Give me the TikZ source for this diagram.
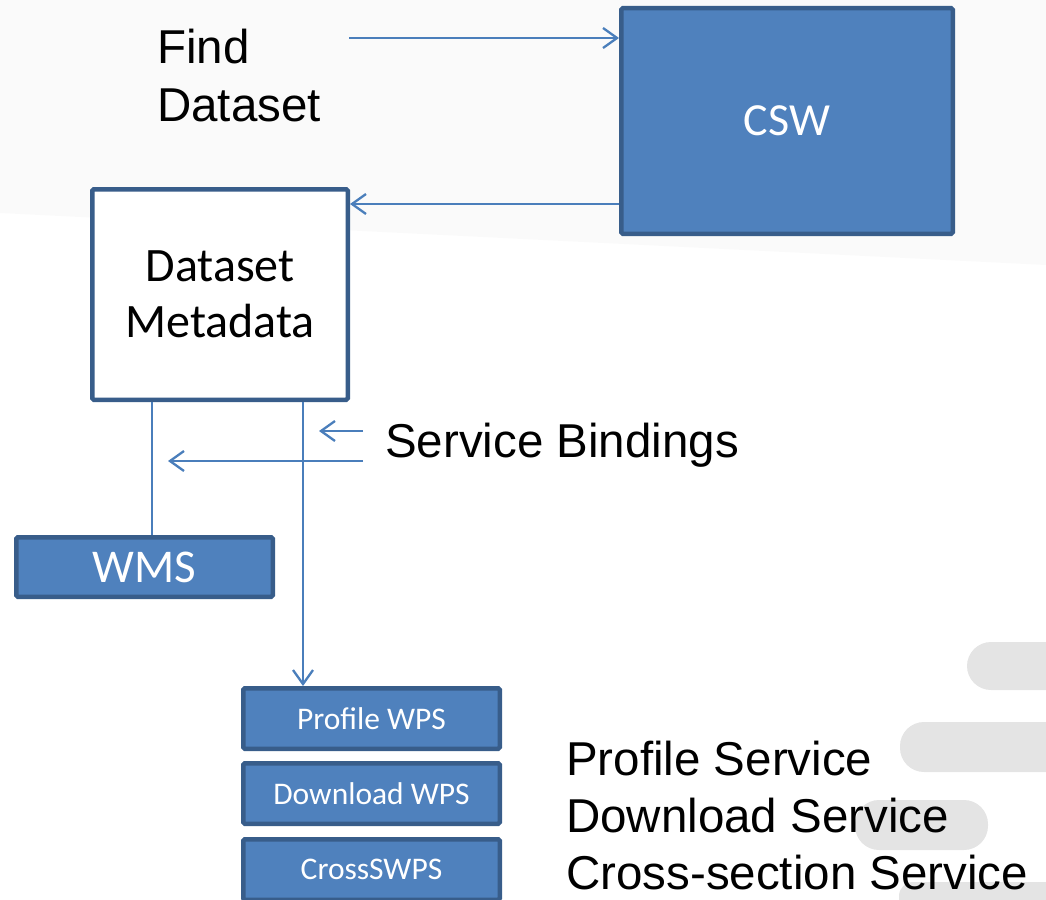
\documentclass[tikz,border=0pt]{standalone}
\usepackage{fontspec}
\usetikzlibrary{arrows.meta}
\newfontfamily\arialf{Liberation Sans}
\newfontfamily\carl{Carlito}
\definecolor{boxc}{HTML}{4F81BD}
\definecolor{bordc}{HTML}{385D8A}
\definecolor{linec}{HTML}{4A7EBB}
\definecolor{pillc}{HTML}{E4E4E4}
\definecolor{bandc}{HTML}{FAFAFA}
\tikzset{
  bluebox/.style={draw=bordc, fill=boxc, line width=4.5pt, rounded corners=1.5pt, text=white, inner sep=0pt},
  whitebox/.style={draw=bordc, fill=white, line width=4.5pt, rounded corners=1.5pt, text=black, inner sep=0pt, align=center},
  conn/.style={draw=linec, line width=2.3pt},
  arr/.style={conn, -{Straight Barb[length=14pt,width=20pt]}},
  lbl/.style={inner sep=0pt, text=black, font=\arialf\fontsize{47.5}{58}\selectfont},
  pill/.style={fill=pillc, rounded corners=24pt}
}
\begin{document}
\begin{tikzpicture}[x=1pt,y=-1pt]
\useasboundingbox (0,0) rectangle (1046,899);
\clip (0,0) rectangle (1046,899);
% background
\fill[bandc] (0,0) -- (1046,0) -- (1046,265) -- (0,213) -- cycle;
\fill[pill] (967,642) rectangle (1110,690);
\fill[pill] (900,722) rectangle (1110,772);
\fill[pill] (855,800) rectangle (988,850);
\fill[pillc, rounded corners=14pt] (899,882) rectangle (1110,930);
% nodes
\node[bluebox, minimum width=331.5pt, minimum height=225.5pt, font=\carl\fontsize{46}{55}\selectfont] (csw) at (787,121) {CSW};
\node[whitebox, minimum width=255.5pt, minimum height=210.5pt, font=\carl\fontsize{48}{56}\selectfont] (dm) at (220,294.5) {Dataset\\Metadata};
\node[bluebox, minimum width=256.5pt, minimum height=59.5pt, font=\carl\fontsize{47}{56}\selectfont] (wms) at (144.5,567) {WMS};
\node[bluebox, minimum width=256.5pt, minimum height=60.5pt, font=\carl\fontsize{31.5}{38}\selectfont] (pw) at (371.5,718.5) {Profile WPS};
\node[bluebox, minimum width=256.5pt, minimum height=60.5pt, font=\carl\fontsize{31.5}{38}\selectfont] (dw) at (371.5,793.5) {Download WPS};
\node[bluebox, minimum width=256.5pt, minimum height=60.5pt, font=\carl\fontsize{31.5}{38}\selectfont] (cw) at (371.5,869.5) {CrossSWPS};
% labels
\node[lbl, anchor=north west, align=left] (find) at (157,29) {Find\\Dataset};
\node[lbl, anchor=base west] (sbl) at (385,457) {Service Bindings};
\node[lbl, anchor=north west, align=left, font=\arialf\fontsize{47.5}{57}\selectfont] (svc) at (566,741) {Profile Service\\Download Service\\Cross-section Service};
% connectors
\coordinate (fs) at (349,38);
\draw[arr] (fs) -- (csw.west |- fs);
\coordinate (ry) at (0,204);
\draw[arr] (csw.west |- ry) -- (dm.east |- ry);
\coordinate (xl) at (152,0);
\draw[conn] (dm.south -| xl) -- (wms.north -| xl);
\coordinate (xr) at (303,0);
\draw[arr] (dm.south -| xr) -- (pw.north -| xr);
\coordinate (b1s) at (363,431);
\coordinate (b1e) at (319,431);
\draw[arr] (b1s) -- (b1e);
\coordinate (b2s) at (363,461);
\coordinate (b2e) at (168,461);
\draw[arr] (b2s) -- (b2e);
\end{tikzpicture}
\end{document}
